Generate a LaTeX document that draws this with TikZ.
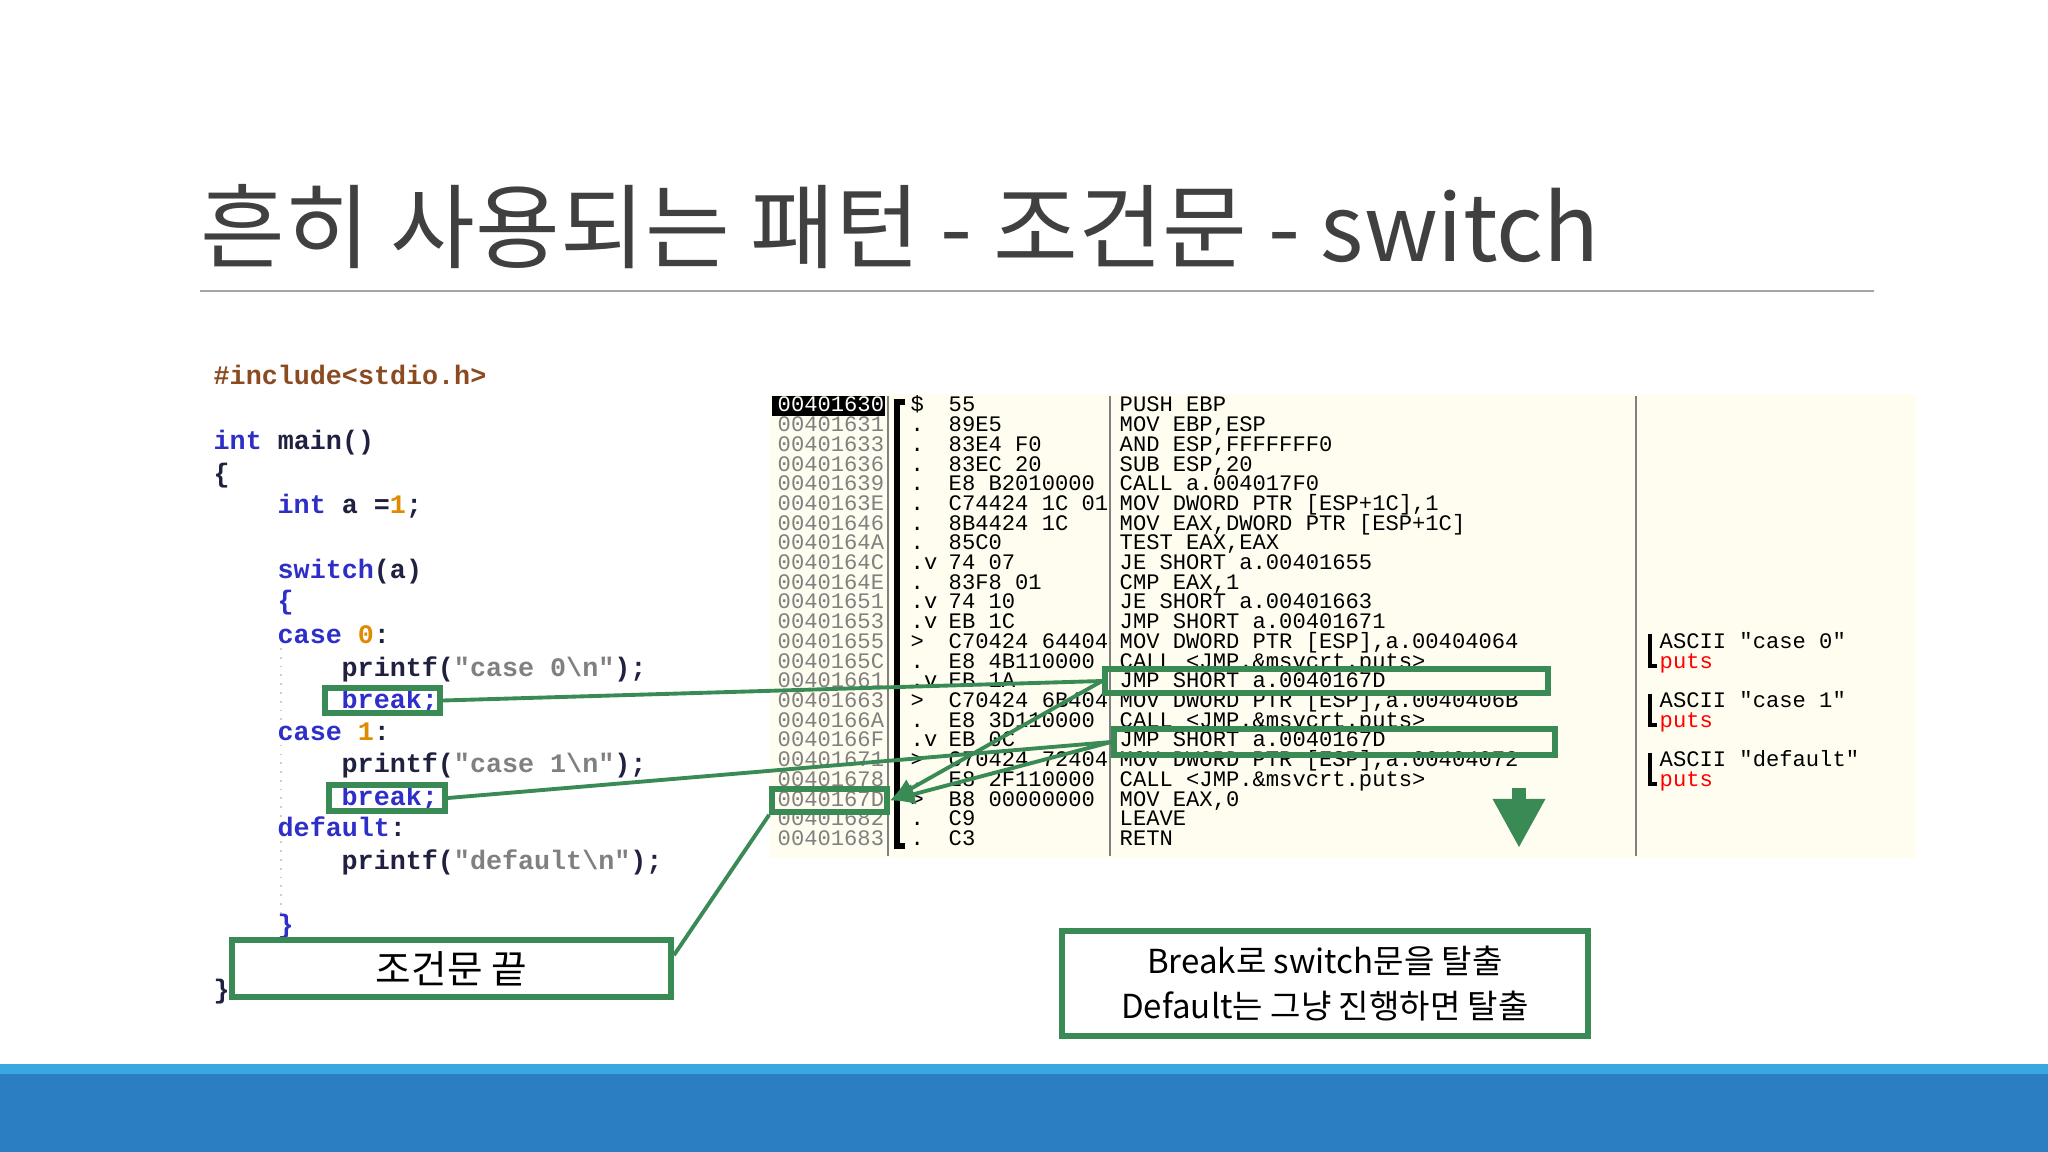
\documentclass[tikz,border=0pt]{standalone}
\usepackage{fontspec}
\usetikzlibrary{arrows.meta}
\newfontfamily\kr{Noto Sans CJK KR}
\newfontfamily\cmono{Liberation Mono}
\definecolor{kw}{HTML}{2E2EC8}
\definecolor{dk}{HTML}{202040}
\definecolor{num}{HTML}{E08A00}
\definecolor{str}{HTML}{808080}
\definecolor{inc}{HTML}{8B4A20}
\definecolor{gr}{HTML}{3A8A55}
\definecolor{cream}{HTML}{FFFDF0}
\definecolor{barl}{HTML}{3AA8E0}
\definecolor{bard}{HTML}{2B7EC1}
\tikzset{
 codeln/.style={anchor=base west,inner sep=0,font=\cmono\bfseries\fontsize{7.6}{8}\selectfont,text=dk},
 asm/.style={anchor=base west,inner sep=0,font=\cmono\fontsize{6.3}{7}\selectfont,text=black},
 addr/.style={asm,text=str},
 gbox/.style={draw=gr,line width=1.6pt,inner sep=0,fill=none},
 gline/.style={draw=gr,line width=1.1pt},
}
\begin{document}
\begin{tikzpicture}[x=0.01cm,y=-0.01cm]
\useasboundingbox (0,0) rectangle (2048,1152);
\fill[white] (0,0) rectangle (2048,1152);
% title
\node[anchor=base west,inner sep=0,font=\kr\fontsize{26.2}{30}\selectfont,text=black!75] (title) at (200,262) {흔히 사용되는 패턴 - 조건문 - switch};
\draw[gray!70,line width=0.6pt] (200,291) -- (1874,291);
% bottom bar
\fill[barl] (0,1064) rectangle (2048,1074);
\fill[bard] (0,1074) rectangle (2048,1152);
% code
\draw[gray!40,line width=0.5pt,dotted] (281,648) -- (281,920);
\node[codeln,text=inc] (c1) at (213,385) {\#include<stdio.h>};
\node[codeln] (c2) at (213,450) {\textcolor{kw}{int} main()};
\node[codeln] (c3) at (213,482) {\{};
\node[codeln] (c4) at (277,514) {\textcolor{kw}{int} a =\textcolor{num}{1};};
\node[codeln] (c5) at (277,578) {\textcolor{kw}{switch}(a)};
\node[codeln] (c6) at (277,610) {\textcolor{kw}{\{}};
\node[codeln] (c7) at (277,643) {\textcolor{kw}{case} \textcolor{num}{0}:};
\node[codeln] (c8) at (341,676) {printf(\textcolor{str}{"case 0\textbackslash n"});};
\node[codeln,text=kw] (c9) at (341,708) {break;};
\node[codeln] (c10) at (277,740) {\textcolor{kw}{case} \textcolor{num}{1}:};
\node[codeln] (c11) at (341,772) {printf(\textcolor{str}{"case 1\textbackslash n"});};
\node[codeln,text=kw] (c12) at (341,805) {break;};
\node[codeln] (c13) at (277,836) {\textcolor{kw}{default}:};
\node[codeln] (c14) at (341,869) {printf(\textcolor{str}{"default\textbackslash n"});};
\node[codeln,text=kw] (c15) at (277,933) {\}};
\node[codeln] (c16) at (213,998) {\}};
% asm panel
\fill[cream] (770,394) rectangle (1916,858);
\draw[gray,line width=0.6pt] (888,396) -- (888,856);
\draw[gray,line width=0.6pt] (1110,396) -- (1110,856);
\draw[gray,line width=0.6pt] (1636,396) -- (1636,856);
\draw[black,line width=1.6pt] (905,402) -- (897,402) -- (897,846) -- (905,846);
\fill[black] (772,396) rectangle (885,416);
\foreach \i/\a/\s/\h/\ins in {
0/00401630/\$/{55}/{PUSH EBP},
1/00401631/./{89E5}/{MOV EBP,ESP},
2/00401633/./{83E4 F0}/{AND ESP,FFFFFFF0},
3/00401636/./{83EC 20}/{SUB ESP,20},
4/00401639/./{E8 B2010000}/{CALL a.004017F0},
5/0040163E/./{C74424 1C 01}/{MOV DWORD PTR [ESP+1C],1},
6/00401646/./{8B4424 1C}/{MOV EAX,DWORD PTR [ESP+1C]},
7/0040164A/./{85C0}/{TEST EAX,EAX},
8/0040164C/.v/{74 07}/{JE SHORT a.00401655},
9/0040164E/./{83F8 01}/{CMP EAX,1},
10/00401651/.v/{74 10}/{JE SHORT a.00401663},
11/00401653/.v/{EB 1C}/{JMP SHORT a.00401671},
12/00401655/>/{C70424 644040}/{MOV DWORD PTR [ESP],a.00404064},
13/0040165C/./{E8 4B110000}/{CALL <JMP.\&msvcrt.puts>},
14/00401661/.v/{EB 1A}/{JMP SHORT a.0040167D},
15/00401663/>/{C70424 6B4040}/{MOV DWORD PTR [ESP],a.0040406B},
16/0040166A/./{E8 3D110000}/{CALL <JMP.\&msvcrt.puts>},
17/0040166F/.v/{EB 0C}/{JMP SHORT a.0040167D},
18/00401671/>/{C70424 724040}/{MOV DWORD PTR [ESP],a.00404072},
19/00401678/./{E8 2F110000}/{CALL <JMP.\&msvcrt.puts>},
20/0040167D/>/{B8 00000000}/{MOV EAX,0},
21/00401682/./{C9}/{LEAVE},
22/00401683/./{C3}/{RETN}}{
 \pgfmathsetmacro\yy{406+19.7*\i+6}
 \ifnum\i=0
  \node[addr,text=white] (ad\i) at (777,\yy) {\a};
 \else
  \node[addr] (ad\i) at (777,\yy) {\a};
 \fi
 \node[asm] (sy\i) at (910,\yy) {\s};
 \begin{scope}
 \clip (940,380) rectangle (1108,870);
 \node[asm] (hx\i) at (948,\yy) {\h};
 \end{scope}
 \node[asm] (in\i) at (1119,\yy) {\ins};
}
% comments
\foreach \i/\t in {12/case 0,15/case 1,18/default}{
 \pgfmathsetmacro\yy{406+19.7*\i+6}
 \pgfmathsetmacro\yb{406+19.7*(\i+1)}
 \node[asm] (cm\i) at (1659,\yy) {ASCII "\t"};
 \node[asm,text=red] (pu\i) at (1659,\yy+19.7) {puts};
 \draw[black,line width=1.2pt] (1650,\yy-14) -- (1650,\yb+4) -- (1657,\yb+4);
}
% green boxes
\node[gbox,minimum width=1.15cm,minimum height=0.25cm] (b1) at (382.5,700.5) {};
\node[gbox,minimum width=1.16cm,minimum height=0.26cm] (b2) at (387,798) {};
\node[gbox,minimum width=4.43cm,minimum height=0.24cm] (j1) at (1326.5,681) {};
\node[gbox,minimum width=4.41cm,minimum height=0.26cm] (j2) at (1334.5,742) {};
\node[gbox,minimum width=1.15cm,minimum height=0.23cm] (t) at (829.5,800.5) {};
\node[gbox,minimum width=4.39cm,minimum height=0.57cm,font=\kr\fontsize{11}{13}\selectfont] (endb) at (451.5,968.5) {조건문 끝};
\node[gbox,minimum width=5.26cm,minimum height=1.05cm,align=center,font=\kr\fontsize{9.4}{12.8}\selectfont] (note) at (1325,983.5) {Break로 switch문을 탈출\\Default는 그냥 진행하면 탈출};
% connectors
\draw[gline] (b1.east) -- (j1.west);
\draw[gline] (b2.east) -- (j2.west);
\draw[gline,-{Latex[length=7pt,width=6pt]}] (j1.west) -- (t.east);
\draw[gline,-{Latex[length=7pt,width=6pt]}] (j2.west) -- (t.east);
\coordinate (ee) at ([yshift=-0.18cm]endb.north east);
\draw[gline] (ee) -- (t.south west);
\coordinate (dA) at (1519,788);
\coordinate (dB) at (1519,848);
\draw[draw=gr,line width=4pt,-{Triangle[length=14pt,width=14pt]}] (dA) -- (dB);
\end{tikzpicture}
\end{document}
